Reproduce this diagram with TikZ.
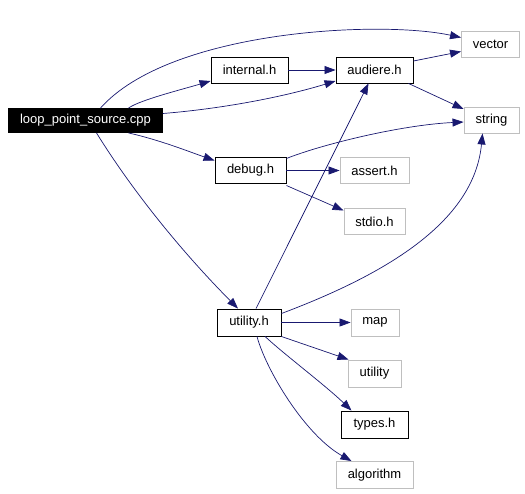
\documentclass[tikz,border=0pt]{standalone}
\usepackage{fontspec}
\setmainfont{Liberation Sans}
\usetikzlibrary{arrows.meta}
\definecolor{edgecol}{HTML}{191970}
\definecolor{graybox}{HTML}{BFBFBF}
\tikzset{
  base/.style={rectangle, inner sep=0pt, font=\fontsize{13}{15}\selectfont, line width=0.9pt, fill=white},
  blackbox/.style={base, draw=black},
  greybox/.style={base, draw=graybox},
  rootbox/.style={base, draw=black, fill=black, text=white},
  edge/.style={draw=edgecol, line width=0.7pt, -{Triangle[length=11pt,width=8pt]}}
}
\begin{document}
\begin{tikzpicture}[x=1pt,y=-1pt]
\useasboundingbox (0,0) rectangle (525,493);
\node[rootbox, minimum width=154pt, minimum height=24pt] (loop) at (85.5,120.5) {loop\_point\_source.cpp};
\node[blackbox, minimum width=77pt, minimum height=26pt] (internal) at (249.5,70) {internal.h};
\node[blackbox, minimum width=77pt, minimum height=26pt] (audiere) at (374.5,70) {audiere.h};
\node[greybox, minimum width=58pt, minimum height=26pt] (vector) at (490.5,44.5) {vector};
\node[greybox, minimum width=55pt, minimum height=26pt] (string) at (491.5,120) {string};
\node[blackbox, minimum width=71pt, minimum height=26pt] (debug) at (250.5,170.5) {debug.h};
\node[greybox, minimum width=69pt, minimum height=26pt] (assert) at (374.5,170.5) {assert.h};
\node[greybox, minimum width=61pt, minimum height=26pt] (stdio) at (374.5,221.5) {stdio.h};
\node[blackbox, minimum width=64pt, minimum height=27pt] (utilh) at (249,322.5) {utility.h};
\node[greybox, minimum width=48pt, minimum height=27pt] (map) at (375,322.5) {map};
\node[greybox, minimum width=53pt, minimum height=27pt] (utility) at (374.5,373.5) {utility};
\node[blackbox, minimum width=67pt, minimum height=27pt] (types) at (374.5,424.5) {types.h};
\node[greybox, minimum width=77pt, minimum height=27pt] (algorithm) at (374.5,475) {algorithm};

\draw[edge] ([xshift=15pt]loop.north) .. controls (170,30) and (380,20) .. ([yshift=7pt]vector.west);
\draw[edge] ([xshift=43pt]loop.north) .. controls (140,100) and (180,90) .. ([yshift=-11pt]internal.west);
\draw[edge] ([yshift=7pt]loop.east) .. controls (230,108) and (290,95) .. ([yshift=-11pt]audiere.west);
\draw[edge] ([xshift=43pt]loop.south) .. controls (160,140) and (190,152) .. ([yshift=10pt]debug.west);
\draw[edge] ([xshift=11pt]loop.south) .. controls (135,195) and (185,255) .. ([xshift=-11pt]utilh.north);
\draw[edge] (internal.east) -- (audiere.west);
\draw[edge] ([yshift=9pt]audiere.east) -- ([yshift=-7pt]vector.west);
\draw[edge] ([xshift=34pt]audiere.south) -- ([yshift=11pt]string.west);
\draw[edge] ([yshift=12pt]debug.east) .. controls (320,145) and (400,125) .. ([yshift=-2pt]string.west);
\draw[edge] (debug.east) -- (assert.west);
\draw[edge] ([yshift=-15pt]debug.east) -- ([yshift=11pt]stdio.west);
\draw[edge] ([xshift=7pt]utilh.north) -- ([xshift=-6pt]audiere.south);
\draw[edge] ([yshift=9pt]utilh.east) .. controls (381,276) and (474,224) .. ([xshift=-9pt]string.south);
\draw[edge] (utilh.east) -- (map.west);
\draw[edge] ([yshift=-14pt]utilh.east) -- ([xshift=-26pt]utility.north);
\draw[edge] ([xshift=16pt]utilh.south) .. controls (285,355) and (325,385) .. ([xshift=-23pt]types.north);
\draw[edge] ([xshift=8pt]utilh.south) .. controls (266,370) and (305,435) .. ([xshift=-23pt]algorithm.north);
\end{tikzpicture}
\end{document}
